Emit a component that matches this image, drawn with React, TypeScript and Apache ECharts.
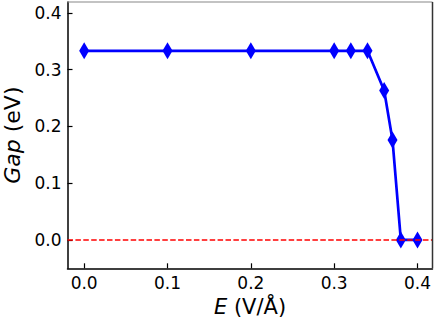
import React, { useEffect, useRef } from "react";
import * as echarts from "echarts";

const fieldE = [0.0, 0.1, 0.2, 0.3, 0.32, 0.34, 0.36, 0.37, 0.38, 0.4];
const gapEV = [0.333, 0.333, 0.333, 0.333, 0.333, 0.333, 0.263, 0.176, 0.0, 0.0];
const xTicks = [0.0, 0.1, 0.2, 0.3, 0.4];
const yTicks = [0.0, 0.1, 0.2, 0.3, 0.4];

const FONT = "DejaVu Sans";

export default function App() {
  const ref = useRef<HTMLDivElement>(null);
  useEffect(() => {
    if (!ref.current) return;
    const chart = echarts.init(ref.current, null, { renderer: "svg" });
    const data = fieldE.map((x, i) => [x, gapEV[i]]);
    const bottom = 60.7;
    chart.setOption({
      animation: false,
      backgroundColor: "#ffffff",
      grid: { left: 67.5, right: 3.5, top: 2, bottom, containLabel: false, outerBoundsMode: "none", show: false },
      xAxis: {
        type: "value",
        min: -0.02,
        max: 0.418,
        name: "{i|E} (V/Å)",
        nameLocation: "middle",
        nameGap: 25,
        nameTextStyle: {
          fontFamily: FONT,
          fontSize: 21,
          color: "#000",
          rich: { i: { fontFamily: FONT, fontStyle: "italic", fontSize: 21, color: "#000" } },
        },
        splitLine: { show: false },
        axisLine: { show: true, onZero: false, lineStyle: { color: "#000", width: 1.5 } },
        axisTick: { show: true, inside: true, length: 5, customValues: xTicks, lineStyle: { color: "#000", width: 1.2 } },
        axisLabel: {
          customValues: xTicks,
          formatter: (v: number) => v.toFixed(1),
          fontFamily: FONT,
          fontSize: 17,
          color: "#000",
          margin: 6,
        },
      },
      yAxis: {
        type: "value",
        min: -0.05,
        max: 0.419,
        name: "{i|Gap} (eV)",
        nameLocation: "middle",
        nameRotate: 90,
        nameGap: 44,
        nameTextStyle: {
          fontFamily: FONT,
          fontSize: 22,
          color: "#000",
          rich: { i: { fontFamily: FONT, fontStyle: "italic", fontSize: 22, color: "#000" } },
        },
        splitLine: { show: false },
        axisLine: { show: true, onZero: false, lineStyle: { color: "#000", width: 1.5 } },
        axisTick: { show: true, inside: true, length: 5, customValues: yTicks, lineStyle: { color: "#000", width: 1.2 } },
        axisLabel: {
          customValues: yTicks,
          formatter: (v: number) => v.toFixed(1),
          fontFamily: FONT,
          fontSize: 17,
          color: "#000",
          margin: 6,
        },
      },
      graphic: [
        { type: "line", shape: { x1: 67.5, y1: 2, x2: 432.5, y2: 2 }, style: { stroke: "#888", lineWidth: 1.2 }, z: 10 },
        { type: "line", shape: { x1: 432.5, y1: 2, x2: 432.5, y2: 329 - bottom }, style: { stroke: "#333", lineWidth: 1.5 }, z: 10 },
      ],
      series: [
        {
          type: "line",
          data,
          symbol: "diamond",
          symbolSize: [10, 17],
          itemStyle: { color: "#0000ff" },
          lineStyle: { color: "#0000ff", width: 2.7 },
          z: 2,
          markLine: {
            silent: true,
            symbol: "none",
            label: { show: false },
            lineStyle: { color: "#ff0000", width: 1.5, type: [5.5, 2.4] },
            data: [{ yAxis: 0 }],
          },
        },
      ],
    });
    return () => chart.dispose();
  }, []);
  return <div ref={ref} style={{ width: 436, height: 329, position: "absolute", left: 0, top: 0 }} />;
}
